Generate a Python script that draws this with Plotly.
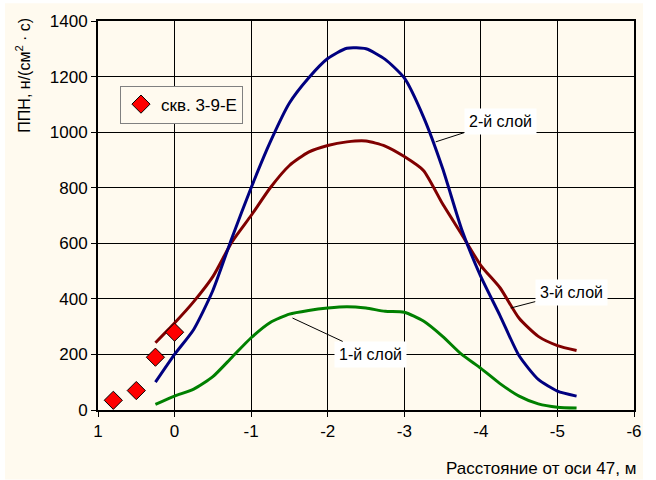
import plotly.graph_objects as go

# Data
x_curve = [0.25, 0, -0.25, -0.5, -0.75, -1.0, -1.25, -1.5, -1.75, -2.0, -2.25, -2.5,
           -2.75, -3.0, -3.25, -3.5, -3.75, -4.0, -4.25, -4.5, -4.75, -5.0, -5.25]
layer1 = [20, 50, 75, 120, 190, 260, 315, 345, 358, 367, 372, 367,
          355, 352, 320, 265, 200, 150, 95, 50, 22, 10, 7]
layer2 = [100, 200, 290, 430, 620, 800, 965, 1105, 1195, 1265, 1302, 1300,
          1262, 1195, 1055, 870, 650, 480, 340, 195, 110, 68, 50]
layer3 = [242, 313, 390, 480, 605, 700, 800, 880, 928, 952, 965, 968,
          950, 912, 862, 742, 632, 520, 440, 330, 265, 232, 214]
well_x = [0.8, 0.5, 0.25, 0]
well_y = [35, 70, 190, 280]
x_ticks = [1, 0, -1, -2, -3, -4, -5, -6]
x_tick_text = ["1", "0", "-1", "-2", "-3", "-4", "-5", "-6"]
y_ticks = [0, 200, 400, 600, 800, 1000, 1200, 1400]

FONT = "Liberation Sans, Arial, sans-serif"
CREAM = "#FFFAEF"

fig = go.Figure()
fig.add_trace(go.Scatter(x=x_curve, y=layer1, mode="lines", showlegend=False,
                         line=dict(color="#008000", width=3, shape="spline", smoothing=0.6)))
fig.add_trace(go.Scatter(x=x_curve, y=layer3, mode="lines", showlegend=False,
                         line=dict(color="#800000", width=3, shape="spline", smoothing=0.6)))
fig.add_trace(go.Scatter(x=x_curve, y=layer2, mode="lines", showlegend=False,
                         line=dict(color="#000080", width=3, shape="spline", smoothing=0.6)))
fig.add_trace(go.Scatter(x=well_x, y=well_y, mode="markers", name="скв. 3-9-Е",
                         marker=dict(symbol="diamond", size=14, color="#FF0000",
                                     line=dict(color="black", width=1))))

def label(text, tip_x, tip_y, tx, ty):
    fig.add_annotation(x=tip_x, y=tip_y, ax=tx, ay=ty, axref="x", ayref="y",
                       text=text, showarrow=True, arrowhead=0, arrowwidth=1,
                       arrowcolor="black", bgcolor="white", borderpad=4,
                       font=dict(family=FONT, size=16, color="black"))

label("2-й слой", -3.41, 965, -4.25, 1040)
label("3-й слой", -4.39, 367, -5.18, 424)
label("1-й слой", -1.54, 331, -2.56, 200)

fig.add_annotation(xref="paper", yref="paper", x=-0.140, y=0.862, text="ППН, н/(см<sup>2</sup> · с)",
                   textangle=-90, showarrow=False, xanchor="center", yanchor="middle",
                   font=dict(family=FONT, size=16, color="black"))
fig.add_annotation(xref="paper", yref="paper", x=1.0075, y=-0.1505, text="Расстояние от оси 47, м",
                   showarrow=False, xanchor="right", yanchor="middle",
                   font=dict(family=FONT, size=17, color="black"))

fig.add_shape(type="rect", xref="paper", yref="paper", x0=-0.1735, x1=1.0168, y0=-0.1786, y1=1.0459,
              fillcolor=CREAM, line=dict(width=0), layer="below")

fig.update_layout(
    width=656, height=480,
    margin=dict(l=98, r=22, t=18, b=70),
    paper_bgcolor="white", plot_bgcolor=CREAM,
    font=dict(family=FONT, size=17, color="black"),
    legend=dict(x=0.041, y=0.834, xanchor="left", yanchor="top", bgcolor=CREAM,
                bordercolor="#808080", borderwidth=1, font=dict(size=17),
                itemwidth=30, tracegroupgap=0),
    xaxis=dict(range=[1, -6], tickvals=x_ticks, ticktext=x_tick_text, showgrid=True,
               gridcolor="black", gridwidth=1,
               zeroline=False, showline=True, linecolor="black", linewidth=2, mirror=True,
               ticks="outside", ticklen=5, tickcolor="black", tickfont=dict(size=17)),
    yaxis=dict(range=[0, 1400], tickvals=y_ticks, showgrid=True, gridcolor="black", gridwidth=1,
               zeroline=False, showline=True, linecolor="black", linewidth=2, mirror=True,
               ticks="outside", ticklen=5, tickcolor="black", tickfont=dict(size=17)),
)

fig.write_html("out.html", config={"displayModeBar": False},
               post_script="document.body.style.margin='0';")
